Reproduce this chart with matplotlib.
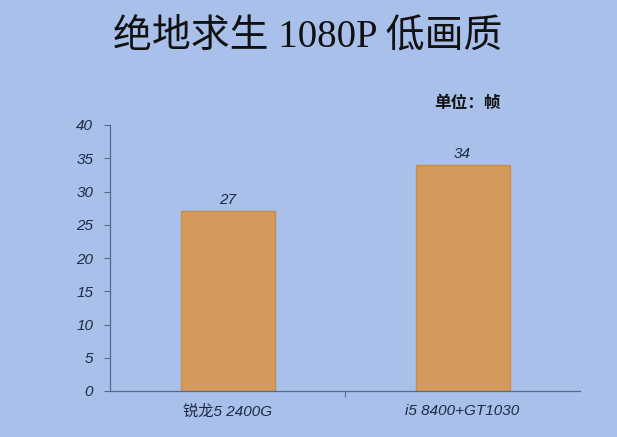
import matplotlib
matplotlib.use("Agg")
import matplotlib.pyplot as plt

categories = ["锐龙5 2400G", "i5 8400+GT1030"]
values = [27, 34]
yticks = [0, 5, 10, 15, 20, 25, 30, 35, 40]

plt.rcParams['font.family'] = ['Noto Sans CJK SC', 'DejaVu Sans']
latin = ['Liberation Sans', 'Noto Sans CJK SC']

bg = "#a9c0ea"
fig = plt.figure(figsize=(6.17, 4.37), dpi=100, facecolor=bg)
ax = fig.add_axes([110/617, 1-391/437, 470/617, 266/437])
ax.set_facecolor(bg)

x = list(range(len(categories)))
ax.bar(x, values, width=0.4, color="#d39a5c", edgecolor="#c98a4a", linewidth=1)

for xi, v in zip(x, values):
    ax.text(xi, v + 0.6, str(v), ha="center", va="bottom", fontsize=11,
            style="italic", color="#1f2a44", family=latin)

ax.set_xlim(-0.5, 1.5)
ax.set_ylim(0, 40)
ax.set_yticks(yticks)
ax.set_yticklabels([str(t) for t in yticks], fontsize=11, style="italic",
                   color="#1f2a44", family=latin)
ax.set_xticks([0.5])
ax.set_xticklabels([""])
ax.tick_params(axis="x", length=4, color="#55698a")
ax.tick_params(axis="y", length=4, color="#55698a", pad=8)
for i, c in enumerate(categories):
    ax.text(i, -2.0, c, ha="center", va="top", fontsize=11, style="italic",
            color="#1f2a44", family=latin)

for s in ["top", "right"]:
    ax.spines[s].set_visible(False)
for s in ["left", "bottom"]:
    ax.spines[s].set_color("#55698a")
    ax.spines[s].set_linewidth(0.9)

fig.text(308/617, 1-37/437, "绝地求生 1080P 低画质", ha="center", va="center",
         fontsize=28, color="#111111", family=['Liberation Serif', 'Noto Sans CJK SC'])
fig.text(467/617, 1-103/437, "单位：帧", ha="center", va="center",
         fontsize=12, fontweight="bold", color="#111111")

fig.savefig("out.png", dpi=100, facecolor=bg)
